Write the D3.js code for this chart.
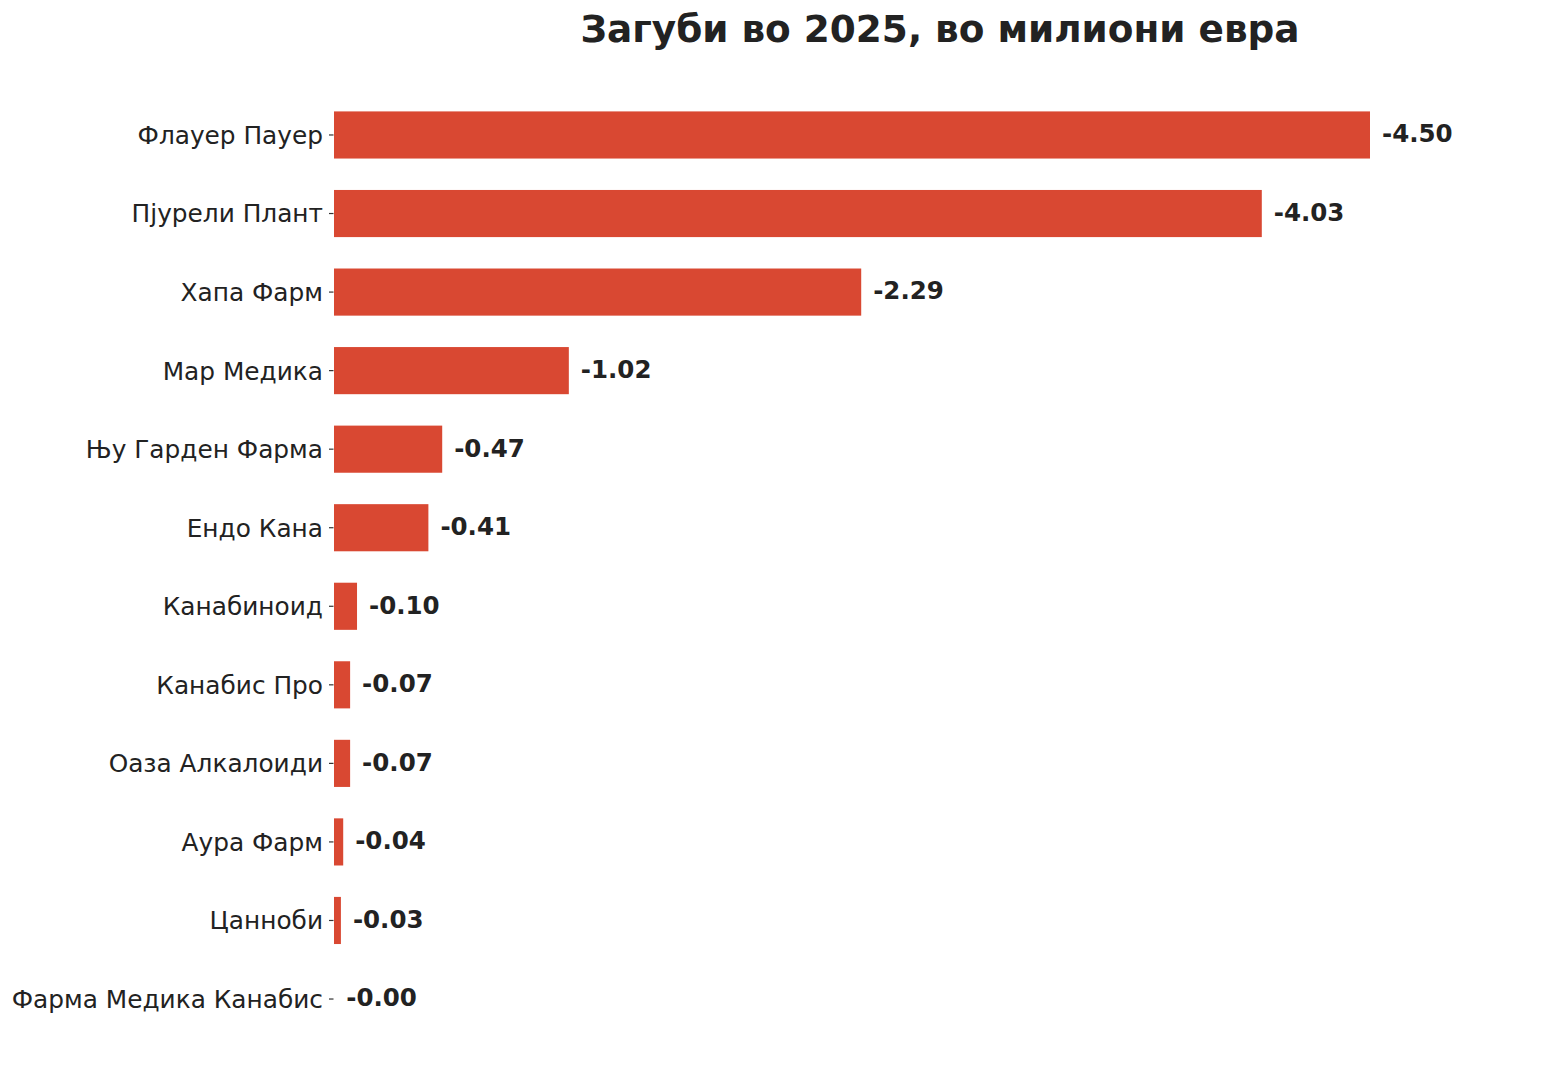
<!DOCTYPE html>
<html>
<head>
<meta charset="utf-8">
<script src="https://cdn.jsdelivr.net/npm/d3@7"></script>
<style>
  html, body { margin: 0; padding: 0; background: #fff; }
  svg { display: block; }
</style>
</head>
<body>
<svg id="chart" width="1557" height="1080"></svg>
<script>
const categories = [
  "Флауер Пауер", "Пјурели Плант", "Хапа Фарм", "Мар Медика",
  "Њу Гарден Фарма", "Ендо Кана", "Канабиноид", "Канабис Про",
  "Оаза Алкалоиди", "Аура Фарм", "Цанноби", "Фарма Медика Канабис"
];
const losses = [-4.50, -4.03, -2.29, -1.02, -0.47, -0.41, -0.10, -0.07, -0.07, -0.04, -0.03, -0.001];
const titleText = "Загуби во 2025, во милиони евра";

const svg = d3.select("#chart");
const font = "'DejaVu Sans', sans-serif";
const textColor = "#222222";
const barColor = "#d94832";

const x0 = 334;
const x = d3.scaleLinear().domain([0, 4.5]).range([x0, 1370]);
const y = d3.scaleBand().domain(categories).range([95.7, 1038.3]).paddingInner(0.4).paddingOuter(0.2);

const data = categories.map((c, i) => ({ name: c, value: losses[i] }));

// bars
svg.append("g").selectAll("rect").data(data).join("rect")
  .attr("x", x(0))
  .attr("y", d => y(d.name))
  .attr("width", d => { const w = x(Math.abs(d.value)) - x(0); return w < 0.5 ? 0 : w; })
  .attr("height", y.bandwidth())
  .attr("fill", barColor);

// y axis
const yAxis = d3.axisLeft(y).tickSize(4.5).tickPadding(6);
const gy = svg.append("g").attr("transform", `translate(${x0 - 0.5},0)`).call(yAxis);
gy.select(".domain").remove();
gy.selectAll(".tick line").attr("stroke", "#333").attr("stroke-width", 1.2);
gy.selectAll(".tick text")
  .attr("font-family", font)
  .attr("font-size", 24.8)
  .attr("fill", textColor)
  .attr("dy", "0.36em");

// value labels
svg.append("g").selectAll("text").data(data).join("text")
  .attr("x", d => x(Math.abs(d.value)) + 12)
  .attr("y", d => y(d.name) + y.bandwidth() / 2)
  .attr("dy", "0.3em")
  .attr("font-family", font)
  .attr("font-weight", "bold")
  .attr("font-size", 24.5)
  .attr("fill", textColor)
  .text(d => d.value.toFixed(2));

// title
svg.append("text")
  .attr("x", 940)
  .attr("y", 42)
  .attr("text-anchor", "middle")
  .attr("font-family", font)
  .attr("font-weight", "bold")
  .attr("font-size", 37.4)
  .attr("fill", textColor)
  .text(titleText);
</script>
</body>
</html>
